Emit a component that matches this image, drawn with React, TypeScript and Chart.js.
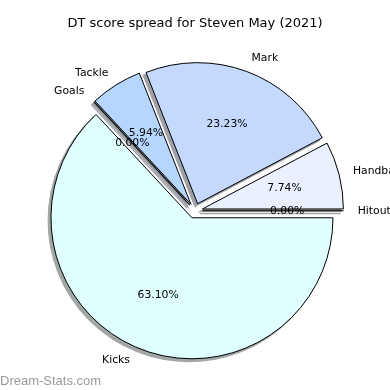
import React, { useEffect, useRef } from 'react';
import { Chart, registerables, ArcElement } from 'chart.js';

Chart.register(...registerables);

// ---- data (matplotlib order: counter-clockwise from 3 o'clock) ----
const TITLE = 'DT score spread for Steven May (2021)';
const CATEGORIES = ['Hitout', 'Handball', 'Mark', 'Tackle', 'Goals', 'Kicks'];
const SHARES = [0, 7.74, 23.23, 5.94, 0, 63.1];
const WATERMARK = 'Dream-Stats.com';

// ---- style ----
const COLORS = ['#f2f6ff', '#eaf0fe', '#c5d9ff', '#b5d6ff', '#b8d4ff', '#e0ffff'];
const FONT = '"DejaVu Sans", sans-serif';
const RADIUS = 141;
const EXPLODE = 7.6;
const SHADOW = 2.8;

function shadowOf(hex: string) {
  const n = parseInt(hex.slice(1), 16);
  const r = (n >> 16) & 255, g = (n >> 8) & 255, b = n & 255;
  const f = (c: number) => Math.round(127.5 + 0.15 * c);
  return `rgb(${f(r)},${f(g)},${f(b)})`;
}

function geom(arc: any) {
  const p = arc.getProps(['x', 'y', 'startAngle', 'endAngle', 'outerRadius'], true);
  const mid = (p.startAngle + p.endAngle) / 2;
  return {
    ...p,
    mid,
    cx: p.x + Math.cos(mid) * EXPLODE,
    cy: p.y + Math.sin(mid) * EXPLODE,
  };
}

const piePlugin = {
  id: 'mplPie',
  beforeDatasetsDraw(chart: any) {
    const ctx = chart.ctx as CanvasRenderingContext2D;
    const meta = chart.getDatasetMeta(0);
    const colors = chart.data.datasets[0].backgroundColor as string[];
    // patch arc drawing so every wedge is exploded by a fixed amount
    meta.data.forEach((arc: any) => {
      if (!arc.__exploded) {
        arc.__exploded = true;
        arc.draw = function (c: CanvasRenderingContext2D, area: any) {
          const g = geom(this);
          c.save();
          c.translate(g.cx - g.x, g.cy - g.y);
          ArcElement.prototype.draw.call(this, c, area);
          c.restore();
        };
      }
    });
    // shadows under all wedges
    ctx.save();
    ctx.translate(-SHADOW, SHADOW);
    meta.data.forEach((arc: any, i: number) => {
      const g = geom(arc);
      const col = shadowOf(colors[i]);
      ctx.fillStyle = col;
      ctx.strokeStyle = col;
      ctx.lineWidth = 1.2;
      ctx.beginPath();
      ctx.moveTo(g.cx, g.cy);
      if (g.endAngle - g.startAngle > 0) {
        ctx.arc(g.cx, g.cy, g.outerRadius, g.startAngle, g.endAngle);
        ctx.closePath();
        ctx.fill();
        ctx.stroke();
      } else {
        ctx.lineTo(g.cx + Math.cos(g.mid) * g.outerRadius, g.cy + Math.sin(g.mid) * g.outerRadius);
        ctx.stroke();
      }
    });
    ctx.restore();
  },
  afterDatasetsDraw(chart: any) {
    const ctx = chart.ctx as CanvasRenderingContext2D;
    const meta = chart.getDatasetMeta(0);
    const labels = chart.data.labels as string[];
    const values = chart.data.datasets[0].data as number[];
    ctx.save();
    // zero-width wedges are drawn as their edge line
    meta.data.forEach((arc: any) => {
      const g = geom(arc);
      if (g.endAngle - g.startAngle === 0) {
        ctx.strokeStyle = '#000';
        ctx.lineWidth = 1.1;
        ctx.beginPath();
        ctx.moveTo(g.cx, g.cy);
        ctx.lineTo(g.cx + Math.cos(g.mid) * g.outerRadius, g.cy + Math.sin(g.mid) * g.outerRadius);
        ctx.stroke();
      }
    });
    ctx.fillStyle = '#000';
    ctx.font = `10.8px ${FONT}`;
    meta.data.forEach((arc: any, i: number) => {
      const g = geom(arc);
      const r = g.outerRadius;
      const lx = g.cx + Math.cos(g.mid) * r * 1.1;
      const ly = g.cy + Math.sin(g.mid) * r * 1.1;
      ctx.textBaseline = 'middle';
      ctx.textAlign = lx > g.x ? 'left' : 'right';
      ctx.fillText(labels[i], lx, ly);
      const px = g.cx + Math.cos(g.mid) * r * 0.6;
      const py = g.cy + Math.sin(g.mid) * r * 0.6;
      ctx.textAlign = 'center';
      ctx.fillText(values[i].toFixed(2) + '%', px, py);
    });
    // watermark
    ctx.fillStyle = '#9a9a9a';
    ctx.font = '13px "Liberation Sans", Arial, sans-serif';
    ctx.textAlign = 'left';
    ctx.textBaseline = 'alphabetic';
    ctx.fillText(WATERMARK, 0, 384.5);
    ctx.restore();
  },
};

export default function App() {
  const ref = useRef<HTMLCanvasElement | null>(null);
  useEffect(() => {
    if (!ref.current) return;
    // Chart.js draws clockwise; reverse to mimic matplotlib's counter-clockwise order
    const labels = [...CATEGORIES].reverse();
    const data = [...SHARES].reverse();
    const colors = [...COLORS].reverse();
    const chart = new Chart(ref.current, {
      type: 'pie',
      data: {
        labels,
        datasets: [
          {
            data,
            backgroundColor: colors,
            borderColor: '#000',
            borderWidth: 1,
            borderJoinStyle: 'miter',
            offset: 0,
          } as any,
        ],
      },
      options: {
        animation: false,
        responsive: false,
        rotation: 90,
        radius: RADIUS,
        layout: { padding: { top: 0, left: 0, right: 0, bottom: 0 } },
        plugins: {
          legend: { display: false },
          tooltip: { enabled: false },
          title: {
            display: true,
            text: TITLE,
            color: '#000',
            font: { family: FONT, size: 13, weight: 'normal' },
            padding: { top: 16, bottom: 0 },
          },
        },
      } as any,
      plugins: [piePlugin],
    });
    return () => chart.destroy();
  }, []);
  return (
    <div style={{ position: 'fixed', left: 0, top: 0, width: 390, height: 390, background: '#fff' }}>
      <canvas ref={ref} width={390} height={390} style={{ width: 390, height: 390 }} />
    </div>
  );
}
